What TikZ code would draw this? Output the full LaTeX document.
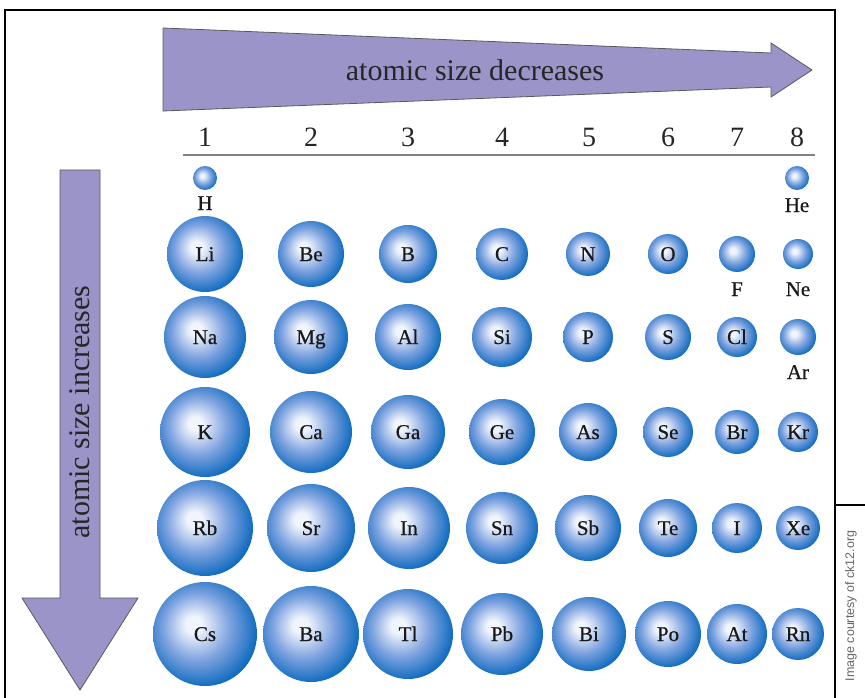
\documentclass[tikz,border=0pt]{standalone}
\usepackage{fontspec}
\setmainfont{Liberation Serif}
\setsansfont{Liberation Sans}
\newfontfamily\labelfont[FakeBold=0.6]{Liberation Serif}
\definecolor{aLight}{RGB}{240,244,252}
\definecolor{aMid}{RGB}{126,163,224}
\definecolor{aDark}{RGB}{14,106,190}
\definecolor{arrowfill}{RGB}{155,148,200}
\pgfdeclareradialshading{atomshade}{\pgfpoint{-6bp}{5bp}}{color(0bp)=(aLight); color(4bp)=(aLight); color(16bp)=(aMid); color(28bp)=(aDark); color(50bp)=(aDark)}
\tikzset{
  atom/.style={circle, inner sep=0pt, draw=none, shading=atomshade, text=black!90, text height=14pt, text depth=0pt, font=\labelfont\fontsize{21}{21}\selectfont},
  sym/.style={font=\labelfont\fontsize{21}{21}\selectfont, text=black!90, inner sep=0pt, text height=14pt, text depth=0pt},
  colnum/.style={font=\fontsize{28}{28}\selectfont, text=black!85, inner sep=0pt},
  bigarrow/.style={fill=arrowfill, draw=black!65, line width=0.8pt, line join=miter},
  arrowtext/.style={font=\fontsize{30}{30}\selectfont, text=black!85, inner sep=0pt},
}
\newcommand\atomnode[5]{\node[atom, minimum size=#4*2pt] (#1) at (#2,#3) {#5};}
\begin{document}
\begin{tikzpicture}[x=1pt,y=-1pt]
\useasboundingbox (0,0) rectangle (865,698);
\fill[white] (0,0) rectangle (865,698);
% frame
\draw[line width=2.5pt] (5,698) -- (5,10) -- (835,10) -- (835,698);
\draw[line width=2pt] (835,505) -- (865,505);
\node[rotate=90, font=\sffamily\fontsize{12.5}{12.5}\selectfont, text=black!60, inner sep=0pt] (credit) at (851,606) {Image courtesy of ck12.org};
% top arrow
\draw[bigarrow] (163,28) -- (771,53) -- (771,43) -- (812,70) -- (771,97) -- (771,87) -- (163,111) -- cycle;
\node[arrowtext] (dec) at (475,70) {atomic size decreases};
% left arrow
\draw[bigarrow] (60,170) -- (100,170) -- (100,598) -- (138,598) -- (80,690) -- (22,598) -- (60,598) -- cycle;
\node[arrowtext, rotate=90] (inc) at (80,412) {atomic size increases};
% column numbers
\foreach \n/\x in {1/205,2/311,3/408,4/502,5/589,6/668,7/737,8/797}
  \node[colnum] (c\n) at (\x,137) {\n};
\draw[black!50, line width=2.5pt] (183,155) -- (815,155);
% row 1
\atomnode{H}{205}{178}{12}{}
\node[sym] (Hl) at (205,203) {H};
\atomnode{He}{797}{178}{12}{}
\node[sym] (Hel) at (797,205) {He};
% row 2
\atomnode{Li}{205}{254}{38}{Li}
\atomnode{Be}{311}{254}{33}{Be}
\atomnode{B}{408}{254}{29}{B}
\atomnode{C}{502}{254}{26}{C}
\atomnode{N}{588}{254}{22}{N}
\atomnode{O}{668}{254}{20}{O}
\atomnode{F}{737}{254}{18}{}
\node[sym] (Fl) at (737,289) {F};
\atomnode{Ne}{798}{254}{15}{}
\node[sym] (Nel) at (798,289) {Ne};
% row 3
\atomnode{Na}{205}{337}{41}{Na}
\atomnode{Mg}{311}{337}{37}{Mg}
\atomnode{Al}{408}{337}{33}{Al}
\atomnode{Si}{502}{337}{30}{Si}
\atomnode{P}{588}{337}{25}{P}
\atomnode{S}{668}{337}{23}{S}
\atomnode{Cl}{737}{337}{20}{Cl}
\atomnode{Ar}{798}{337}{18}{}
\node[sym] (Arl) at (798,372) {Ar};
% row 4
\atomnode{K}{205}{432}{45}{K}
\atomnode{Ca}{311}{432}{41}{Ca}
\atomnode{Ga}{408}{432}{37}{Ga}
\atomnode{Ge}{502}{432}{33}{Ge}
\atomnode{As}{588}{432}{29}{As}
\atomnode{Se}{668}{432}{25}{Se}
\atomnode{Br}{737}{432}{22}{Br}
\atomnode{Kr}{798}{432}{20}{Kr}
% row 5
\atomnode{Rb}{205}{528}{48}{Rb}
\atomnode{Sr}{311}{528}{44}{Sr}
\atomnode{In}{409}{528}{41}{In}
\atomnode{Sn}{502}{528}{36}{Sn}
\atomnode{Sb}{588}{528}{33}{Sb}
\atomnode{Te}{668}{528}{29}{Te}
\atomnode{I}{737}{528}{25}{I}
\atomnode{Xe}{798}{528}{22}{Xe}
% row 6
\atomnode{Cs}{205}{634}{52}{Cs}
\atomnode{Ba}{311}{634}{48}{Ba}
\atomnode{Tl}{408}{634}{45}{Tl}
\atomnode{Pb}{502}{634}{41}{Pb}
\atomnode{Bi}{589}{634}{37}{Bi}
\atomnode{Po}{668}{634}{33}{Po}
\atomnode{At}{737}{634}{30}{At}
\atomnode{Rn}{798}{634}{26}{Rn}
\end{tikzpicture}
\end{document}
